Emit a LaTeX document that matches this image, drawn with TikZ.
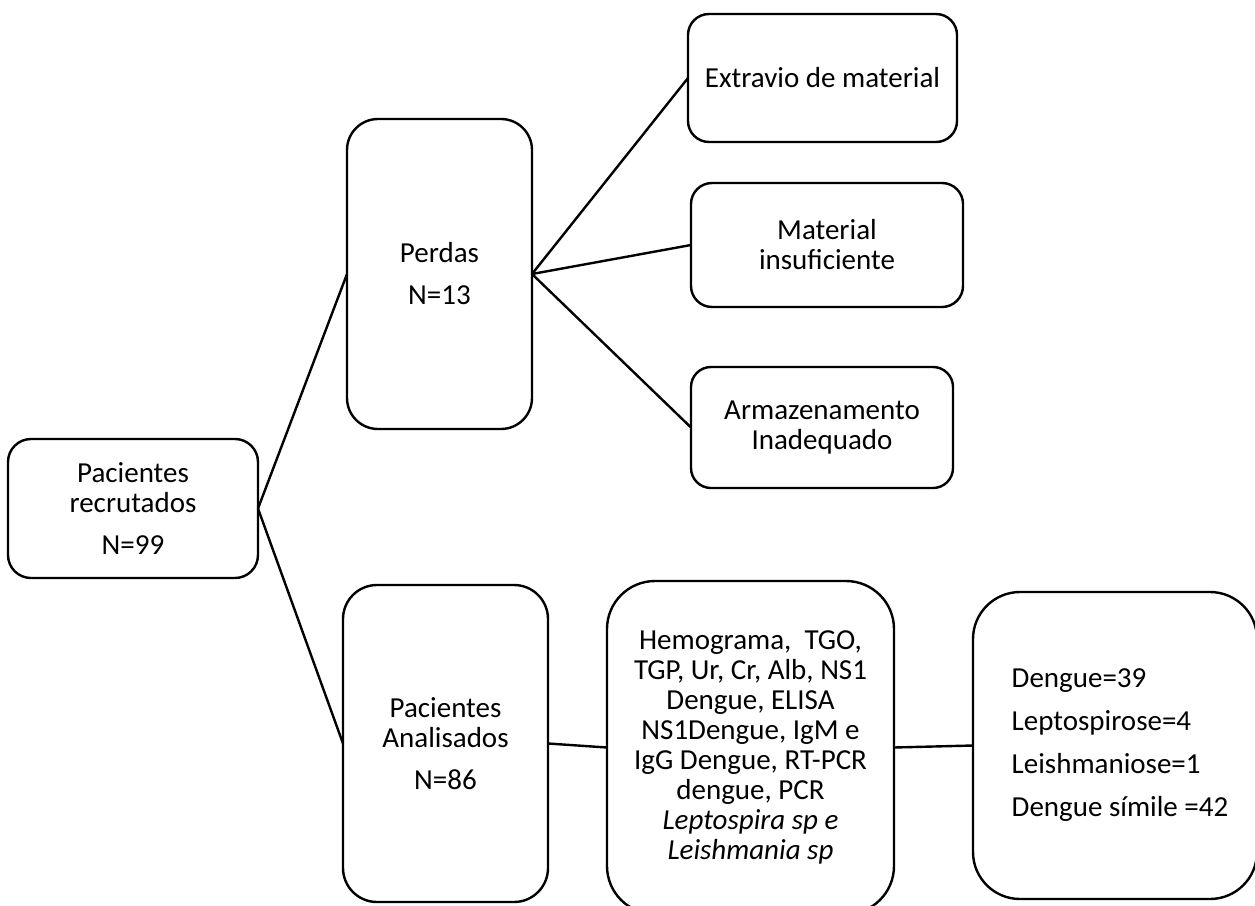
\documentclass[tikz,border=0pt]{standalone}
\usepackage{fontspec}
\setmainfont{Carlito}
\begin{document}
\begin{tikzpicture}[x=1pt,y=-1pt,
  box/.style={draw=black, line width=2.4pt, rounded corners=#1, inner sep=0pt,
    outer sep=0pt, align=center, font=\fontsize{29}{30}\selectfont},
  box/.default=22pt,
  link/.style={draw=black, line width=2.4pt}]
\useasboundingbox (0,0) rectangle (1255,905);

% left: recruited patients
\node[box=23pt, minimum width=250pt, minimum height=139pt] (rec) at (133,508.5)
  {Pacientes\\recrutados\\[12pt]N=99};

% upper branch: losses and their causes
\node[box=31pt, minimum width=185pt, minimum height=310pt] (perdas) at (439.5,274)
  {Perdas\\[12pt]N=13};
\node[box=21pt, minimum width=269pt, minimum height=128pt] (extravio) at (822.5,78)
  {Extravio de material};
\node[box=21pt, minimum width=272pt, minimum height=124pt] (insuf) at (827,245)
  {Material\\insuficiente};
\node[box=20pt, minimum width=262pt, minimum height=121pt] (armaz) at (822,427.5)
  {Armazenamento\\Inadequado};

% lower branch: analysed patients, tests and results
\node[box=34pt, minimum width=205pt, minimum height=317pt] (anal) at (445.5,743.5)
  {Pacientes\\Analisados\\[12pt]N=86};
\node[box=48pt, minimum width=287pt, minimum height=333pt] (exames) at (750.5,747.5)
  {Hemograma,\ \ TGO,\\TGP, Ur, Cr, Alb, NS1\\Dengue, ELISA\\NS1Dengue, IgM e\\
   IgG Dengue, RT-PCR\\dengue, PCR\\\textit{Leptospira sp e}\\\textit{Leishmania sp}};
\node[box=47pt, minimum width=284pt, minimum height=307pt, align=left] (result) at (1115,745.5)
  {\hspace*{10pt}Dengue=39\\[13pt]\hspace*{10pt}Leptospirose=4\\[13pt]%
   \hspace*{10pt}Leishmaniose=1\\[13pt]\hspace*{10pt}Dengue símile =42};

% connectors
\draw[link] (rec.east) -- (perdas.west);
\draw[link] (rec.east) -- (anal.west);
\draw[link] (perdas.east) -- (extravio.west);
\draw[link] (perdas.east) -- (insuf.west);
\draw[link] (perdas.east) -- (armaz.west);
\draw[link] (anal.east) -- (exames.west);
\draw[link] (exames.east) -- (result.west);
\end{tikzpicture}
\end{document}
